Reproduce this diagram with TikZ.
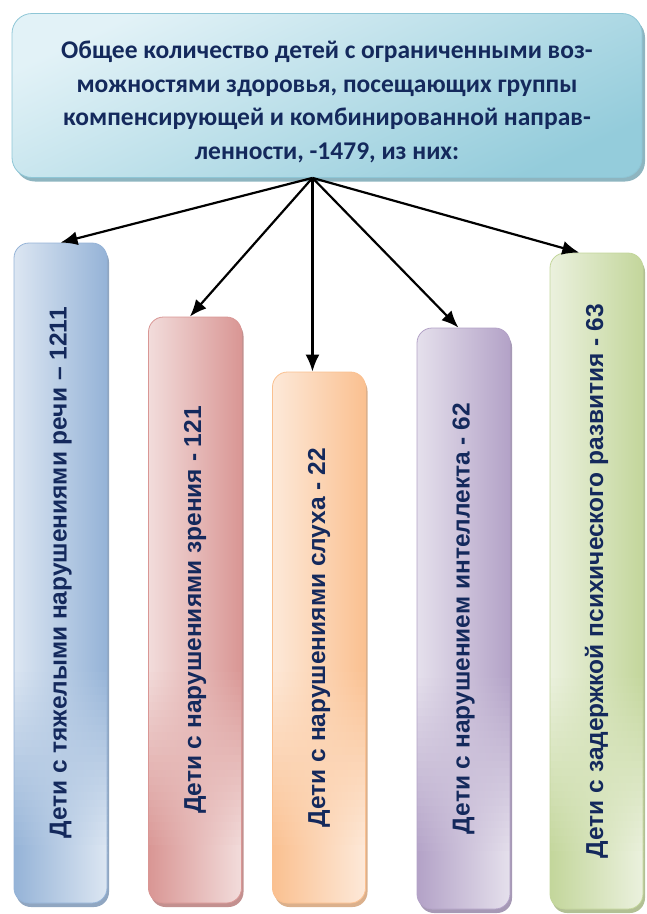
\documentclass[tikz,border=0pt]{standalone}
\usepackage{fontspec}
\setmainfont{Liberation Sans}
\newfontfamily\calibri{Carlito}
\usetikzlibrary{arrows.meta,shadows}
\definecolor{navy}{HTML}{14295C}
\definecolor{tealL}{HTML}{E2F2F7}
\definecolor{tealD}{HTML}{94CCDB}
\definecolor{tealB}{HTML}{8EC6D6}
\definecolor{blueL}{HTML}{DCE6F2}
\definecolor{blueD}{HTML}{95B3D7}
\definecolor{redL}{HTML}{F2DCDB}
\definecolor{redD}{HTML}{D99694}
\definecolor{orangeL}{HTML}{FDE9D9}
\definecolor{orangeD}{HTML}{FAC090}
\definecolor{purpleL}{HTML}{E5E0EC}
\definecolor{purpleD}{HTML}{B3A2C7}
\definecolor{greenL}{HTML}{EBF1DE}
\definecolor{greenD}{HTML}{C3D69B}
\tikzset{
  topbox/.style={draw=tealB, line width=0.8pt, rounded corners=20pt,
    top color=tealL, bottom color=tealD, shading angle=25,
    minimum width=630pt, minimum height=164pt, text=navy,
    drop shadow={shadow xshift=3pt, shadow yshift=-4pt, fill=tealD!70!gray, opacity=1},
    font=\calibri\bfseries\fontsize{25.5}{33.5}\selectfont, align=center},
  bar/.style n args={3}{draw=#2, line width=0.8pt, rounded corners=15pt,
    left color=#1, right color=#2, minimum width=93pt, minimum height=#3,
    text=navy, font=\bfseries\fontsize{24.5}{28}\selectfont,
    drop shadow={shadow xshift=2pt, shadow yshift=-4pt, fill=#2!75!gray, opacity=1},
    path picture={
      \foreach \k in {1,...,24}{
        \pgfmathtruncatemacro\p{100*\k/24}
        \shade[sharp corners, left color=#2!\p!#1, right color=#1!\p!#2]
          ([yshift={230-7.5*\k}]path picture bounding box.south west) rectangle
          ([yshift={238-7.5*\k}]path picture bounding box.south east);
      }
      \shade[sharp corners, left color=#2, right color=#1]
        ([yshift=-2pt]path picture bounding box.south west) rectangle
        ([yshift=51pt]path picture bounding box.south east);}},
  arr/.style={line width=2.2pt, -{Latex[length=17pt,width=14pt]}}
}
\begin{document}
\begin{tikzpicture}[x=1pt,y=-1pt]
  \useasboundingbox (0,0) rectangle (646,914);
  \node[topbox] (total) at (327,95.5) {\rule{0pt}{30pt}Общее количество детей с ограниченными воз-\\можностями здоровья, посещающих группы\\компенсирующей и комбинированной направ-\\ленности, -1479, из них:};
  \node[bar={blueL}{blueD}{660pt}] (speech) at (60.5,573) {\rotatebox{90}{Дети с тяжелыми нарушениями речи – 1211}};
  \node[bar={redL}{redD}{586pt}] (vision) at (195,610) {\rotatebox{90}{Дети с нарушениями зрения - 121}};
  \node[bar={orangeL}{orangeD}{531pt}] (hearing) at (319,637.5) {\rotatebox{90}{Дети с нарушениями слуха - 22}};
  \node[bar={purpleL}{purpleD}{581pt}] (intellect) at (463.5,618.5) {\rotatebox{90}{Дети с нарушением интеллекта - 62}};
  \node[bar={greenL}{greenD}{656pt}] (delay) at (596.5,581) {\rotatebox{90}{Дети с задержкой психического развития - 63}};
  \draw[arr] (total.260) -- (speech.90.6);
  \draw[arr] (total.260) -- (vision.91);
  \draw[arr] (total.260) -- (total.260 |- hearing.north);
  \draw[arr] (total.260) -- (intellect.91.3);
  \draw[arr] (total.260) -- (delay.93.7);
\end{tikzpicture}
\end{document}
